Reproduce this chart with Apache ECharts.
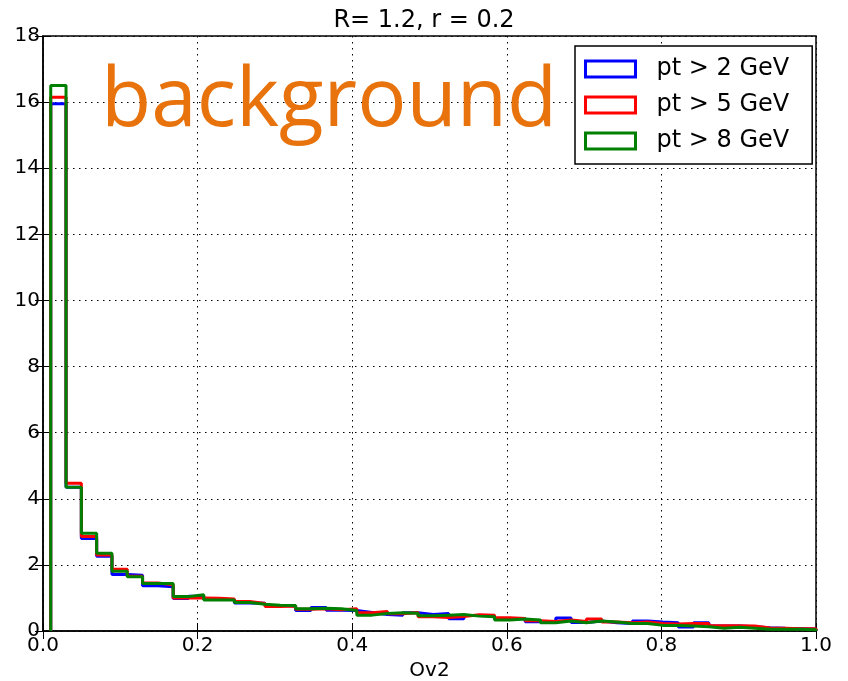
<!DOCTYPE html>
<html>
<head>
<meta charset="utf-8">
<script src="https://cdn.jsdelivr.net/npm/echarts@6/dist/echarts.min.js"></script>
<style>
  html, body { margin: 0; padding: 0; background: #fff; }
  #main { width: 848px; height: 681px; }
</style>
</head>
<body>
<div id="main"></div>
<script>
// histogram bins: 50 bins from 0.01 to 1.0
var binStart = 0.01;
var binWidth = 0.0198;

var xTicks = [0.0, 0.2, 0.4, 0.6, 0.8, 1.0];
var yTicks = [0, 2, 4, 6, 8, 10, 12, 14, 16, 18];

var seriesNames = ['pt > 2 GeV', 'pt > 5 GeV', 'pt > 8 GeV'];
var seriesColors = ['#0000ff', '#ff0000', '#008000'];

var pt2 = [15.95, 4.35, 2.80, 2.26, 1.71, 1.69, 1.37, 1.34, 0.98, 1.05,
           0.95, 0.95, 0.85, 0.84, 0.77, 0.76, 0.62, 0.71, 0.63, 0.62,
           0.56, 0.50, 0.48, 0.55, 0.50, 0.53, 0.37, 0.47, 0.46, 0.38,
           0.37, 0.28, 0.27, 0.39, 0.26, 0.30, 0.25, 0.23, 0.30, 0.27,
           0.25, 0.12, 0.25, 0.15, 0.15, 0.13, 0.10, 0.08, 0.07, 0.06];
var pt5 = [16.15, 4.47, 2.86, 2.30, 1.87, 1.66, 1.45, 1.40, 1.00, 1.00,
           0.99, 0.97, 0.89, 0.83, 0.74, 0.76, 0.66, 0.67, 0.64, 0.67,
           0.55, 0.59, 0.52, 0.56, 0.43, 0.41, 0.44, 0.49, 0.48, 0.40,
           0.38, 0.31, 0.29, 0.33, 0.29, 0.36, 0.27, 0.25, 0.27, 0.23,
           0.21, 0.23, 0.23, 0.16, 0.16, 0.15, 0.09, 0.08, 0.07, 0.07];
var pt8 = [16.5, 4.35, 2.96, 2.35, 1.81, 1.64, 1.44, 1.44, 1.04, 1.10,
           0.94, 0.94, 0.86, 0.81, 0.78, 0.77, 0.67, 0.69, 0.67, 0.62,
           0.48, 0.53, 0.55, 0.54, 0.46, 0.48, 0.50, 0.45, 0.43, 0.33,
           0.36, 0.33, 0.25, 0.30, 0.25, 0.30, 0.27, 0.23, 0.23, 0.17,
           0.17, 0.15, 0.13, 0.08, 0.11, 0.08, 0.05, 0.05, 0.05, 0.04];

// turn bin heights into outline points of a step histogram
function stepPoints(vals) {
    var pts = [[binStart, 0]];
    for (var i = 0; i < vals.length; i++) {
        var l = binStart + i * binWidth;
        pts.push([l, vals[i]]);
        pts.push([l + binWidth, vals[i]]);
    }
    pts.push([binStart + vals.length * binWidth, 0]);
    return pts;
}

var font = 'DejaVu Sans';
var allData = [pt2, pt5, pt8];

var myChart = echarts.init(document.getElementById('main'));

var gridLine = { show: true, lineStyle: { color: '#000', width: 1, type: [1.5, 4.5] } };

var option = {
    animation: false,
    backgroundColor: '#fff',
    title: {
        text: 'R= 1.2, r = 0.2',
        left: 'center',
        top: 4,
        textStyle: { fontFamily: font, fontSize: 24, fontWeight: 'normal', color: '#000' }
    },
    grid: {
        left: 43, right: 32, top: 36, bottom: 50,
        outerBoundsMode: 'none',
        containLabel: false,
        show: true, borderColor: '#000', borderWidth: 1.5, backgroundColor: 'transparent'
    },
    legend: {
        orient: 'vertical',
        left: 575,
        top: 46,
        padding: [11, 23, 11, 9],
        itemGap: 12,
        itemWidth: 50,
        itemHeight: 16,
        icon: 'rect',
        backgroundColor: '#fff',
        borderColor: '#000',
        borderWidth: 1.5,
        textStyle: { fontFamily: font, fontSize: 24, color: '#000', padding: [0, 0, 0, 16] },
        data: seriesNames.map(function (n, i) {
            return { name: n, itemStyle: { color: '#fff', borderColor: seriesColors[i], borderWidth: 3 } };
        })
    },
    xAxis: [{
        type: 'value', min: xTicks[0], max: xTicks[xTicks.length - 1], interval: 0.2,
        name: 'Ov2', nameLocation: 'middle', nameGap: 28,
        nameTextStyle: { fontFamily: font, fontSize: 20, color: '#000' },
        axisLine: { show: true, lineStyle: { color: '#000', width: 1.5 } },
        axisTick: { show: true, inside: true, length: 8, lineStyle: { color: '#000' } },
        axisLabel: { fontFamily: font, fontSize: 20, color: '#000', margin: 5,
            formatter: function (v) { return v.toFixed(1); } },
        splitLine: gridLine
    }, {
        type: 'value', position: 'top', min: 0, max: 1, interval: 0.2,
        axisLine: { show: false },
        axisTick: { show: true, inside: true, length: 8, lineStyle: { color: '#000' } },
        axisLabel: { show: false },
        splitLine: { show: false }
    }],
    yAxis: [{
        type: 'value', min: yTicks[0], max: yTicks[yTicks.length - 1], interval: 2,
        axisLine: { show: true, lineStyle: { color: '#000', width: 1.5 } },
        axisTick: { show: true, inside: true, length: 8, lineStyle: { color: '#000' } },
        axisLabel: { fontFamily: font, fontSize: 20, color: '#000', margin: 3 },
        splitLine: gridLine
    }, {
        type: 'value', position: 'right', min: 0, max: 18, interval: 2,
        axisLine: { show: false },
        axisTick: { show: true, inside: true, length: 8, lineStyle: { color: '#000' } },
        axisLabel: { show: false },
        splitLine: { show: false }
    }],
    graphic: [{
        type: 'text',
        left: 101,
        top: 62,
        z: 10,
        style: {
            text: 'background',
            fontFamily: 'Open Sans',
            fontSize: 82,
            fill: '#e8720c'
        }
    }],
    series: allData.map(function (vals, i) {
        return {
            name: seriesNames[i],
            type: 'line',
            data: stepPoints(vals),
            showSymbol: false,
            symbol: 'none',
            itemStyle: { color: seriesColors[i] },
            lineStyle: { color: seriesColors[i], width: 3 },
            z: 2 + i
        };
    })
};
myChart.setOption(option);
</script>
</body>
</html>
